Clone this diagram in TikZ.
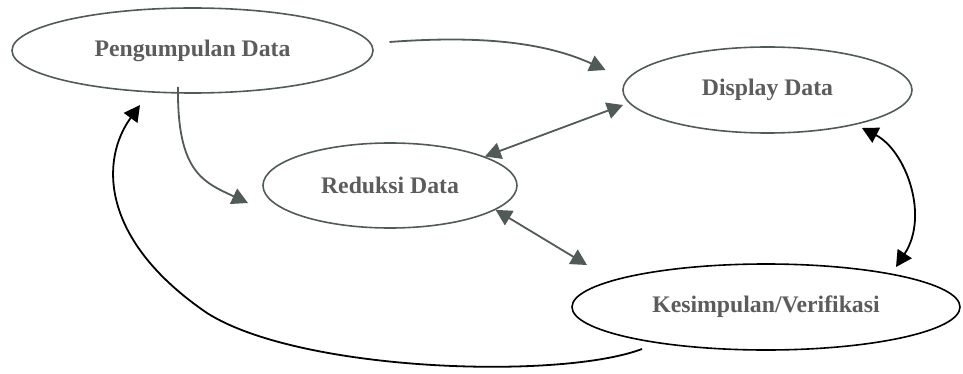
\documentclass[tikz,border=0pt]{standalone}
\usepackage{fontspec}
\setmainfont{Liberation Serif}
\usetikzlibrary{shapes.geometric,arrows.meta,calc}
\definecolor{inkgray}{RGB}{80,90,86}
\definecolor{labelgray}{RGB}{92,92,92}
\begin{document}
\begin{tikzpicture}[x=0.75pt,y=-0.75pt,
  >={Triangle[length=12pt,width=12.5pt]},
  stage/.style={ellipse,draw=inkgray,line width=1.2pt,inner sep=0pt,
    font=\fontsize{17.8}{20}\selectfont\bfseries,text=labelgray},
  link/.style={draw=inkgray,line width=1.35pt},
  darklink/.style={draw=black,line width=1.35pt}]
\useasboundingbox (0,0) rectangle (963,374);

% the four stages of the analysis
\node[stage,minimum width=270.75pt,minimum height=63.75pt] (peng) at (192.5,50.5) {Pengumpulan Data};
\node[stage,minimum width=216.75pt,minimum height=64.5pt] (disp) at (767.5,90) {Display Data};
\node[stage,minimum width=190.5pt,minimum height=63.75pt] (redu) at (390,185.5) {Reduksi Data};
\node[stage,draw=black,minimum width=291pt,minimum height=64.5pt] (kesi) at (766,307) {Kesimpulan/Verifikasi};

% collection feeds display and reduction
\draw[link,->] ($(peng)+(197,-8.5)$) .. controls (470,36) and (540,40) .. ($(disp)+(-162,-20)$);
\draw[link,->] ($(peng)+(-14.5,36.5)$) .. controls (177,172) and (203,182) .. ($(redu)+(-142,17.5)$);

% two-way links between the stages
\draw[link,<->] (redu.17) -- ($(disp)+(-144.5,15)$);
\draw[link,<->] (redu.-13) -- ($(kesi)+(-179,-42)$);
\draw[darklink,<->] ($(disp)+(94.5,38)$) .. controls (905,150) and (930,215) .. ($(kesi)+(130,-40)$);

% conclusions lead back to collection
\draw[darklink,->] ($(kesi)+(-124,42)$) .. controls (560,380) and (300,372) .. (207,313)
  .. controls (100,240) and (100,160) .. ($(peng)+(-52.5,54.5)$);
\end{tikzpicture}
\end{document}
